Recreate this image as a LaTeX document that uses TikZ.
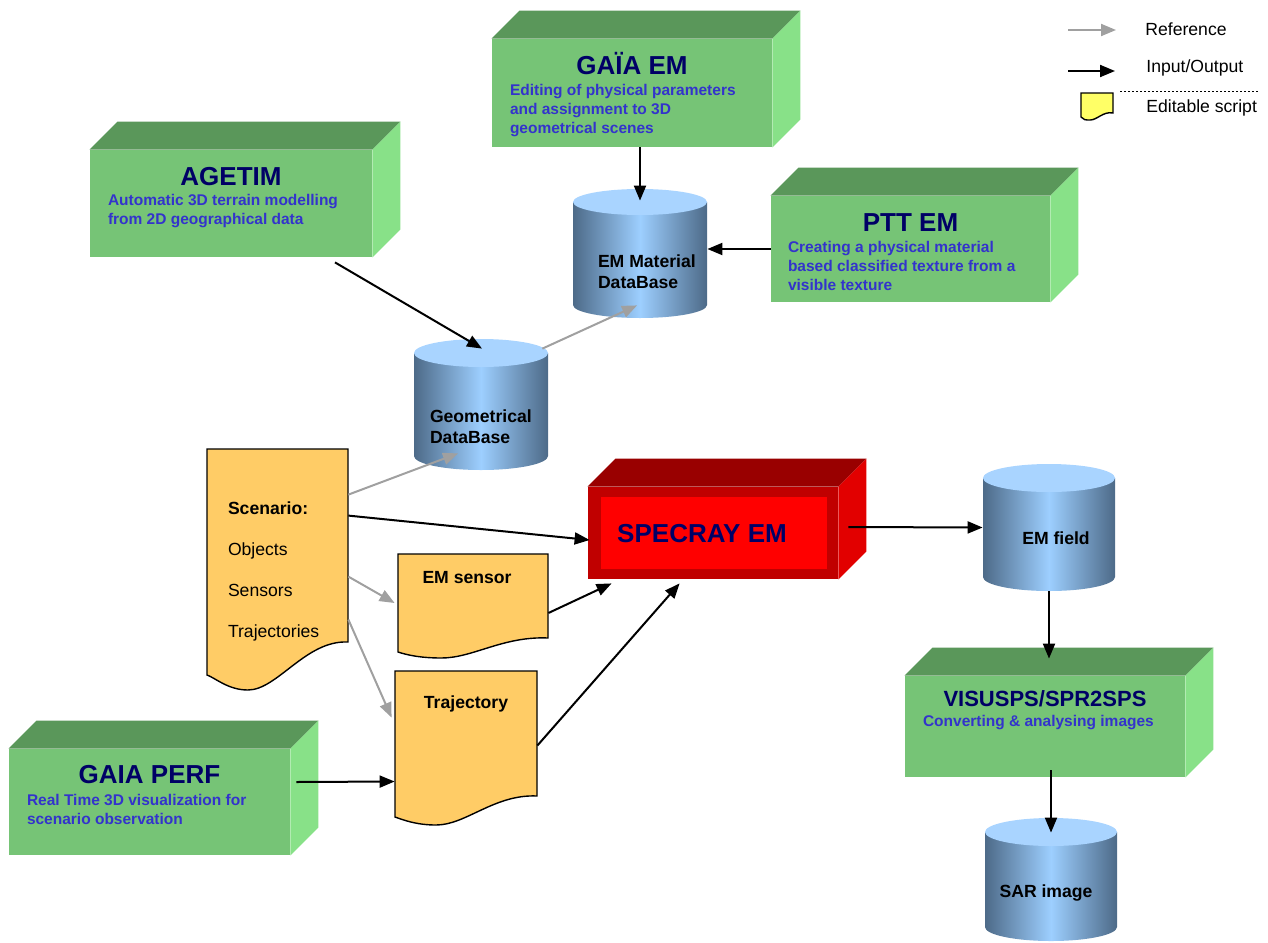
\documentclass[tikz,border=0pt]{standalone}
\usepackage{fontspec}
\setmainfont{Liberation Sans}
\usetikzlibrary{arrows.meta, calc, fit, positioning}

\definecolor{grnfront}{HTML}{76C476}
\definecolor{grntop}{HTML}{5A975A}
\definecolor{grnside}{HTML}{88E188}
\definecolor{redfront}{HTML}{C00000}
\definecolor{redtop}{HTML}{990000}
\definecolor{redside}{HTML}{E20000}
\definecolor{redinner}{HTML}{FF0000}
\definecolor{titlenavy}{HTML}{000066}
\definecolor{descblue}{HTML}{3333CC}
\definecolor{docorange}{HTML}{FFCC66}
\definecolor{legyellow}{HTML}{FFFF66}
\definecolor{refgray}{HTML}{A0A0A0}
\definecolor{dbedge}{HTML}{4D6A88}
\definecolor{dbmid}{HTML}{9DCFFF}
\definecolor{dbtop}{HTML}{A9D4FF}

\newcommand{\emblock}[6][grn]{%
  \node[fit={(#3,#4) (#5,#6)}, inner sep=0, fill=#1front] (#2) {};
  \fill[#1top] (#2.north west) -- ++(28,-28) -- ($(#2.north east)+(28,-28)$) -- (#2.north east) -- cycle;
  \fill[#1side] (#2.north east) -- ++(28,-28) -- ($(#2.south east)+(28,-28)$) -- (#2.south east) -- cycle;
}
\newcommand{\dbcyl}[6]{%
  \shade[left color=dbedge, right color=dbedge, middle color=dbmid]
    (#2-#5,#3) -- (#2-#5,#4) arc[start angle=180, end angle=0, x radius=#5, y radius=#6] -- (#2+#5,#3) -- cycle;
  \fill[dbtop] (#2,#3) ellipse[x radius=#5, y radius=#6];
  \node[fit={(#2-#5,#3-#6) (#2+#5,#4+#6)}, inner sep=0] (#1) {};
}
\newcommand{\scriptdoc}[8][docorange]{%
  \filldraw[fill=#1, draw=black, line width=0.7pt] (#3,#4) -- (#5,#4) -- (#5,#6)
    .. controls ({#5-0.3*(#5-#3)},#6-2) and ({#3+0.5*(#5-#3)},#8) .. ({#3+0.29*(#5-#3)},#8)
    .. controls ({#3+0.15*(#5-#3)},#8) and ({#3+0.06*(#5-#3)},#7+3) .. (#3,#7) -- cycle;
  \node[fit={(#3,#4) (#5,#6)}, inner sep=0] (#2) {};
}

\begin{document}
\begin{tikzpicture}[x=0.5pt,y=-0.5pt,>={Triangle[length=7.5pt,width=6pt]},
  io arrow/.style={->,line width=1pt,black},
  ref arrow/.style={->,line width=1pt,refgray},
  title text/.style={font=\fontsize{13}{15}\selectfont\bfseries,text=titlenavy,inner sep=0,anchor=base},
  desc text/.style={font=\fontsize{7.75}{9.5}\selectfont\bfseries,text=descblue,inner sep=0,anchor=north west,align=left},
  label text/.style={font=\fontsize{8.8}{10.5}\selectfont\bfseries,inner sep=0,align=left},
  plain text/.style={font=\fontsize{8.8}{10.5}\selectfont,inner sep=0,anchor=base west}]
  \useasboundingbox (0,0) rectangle (1268,942);

  % tools
  \emblock{gaiaem}{492}{39}{772}{147}
  \emblock{agetim}{90}{150}{372}{257}
  \emblock{pttem}{771}{196}{1050}{302}
  \emblock{gaiaperf}{9}{749}{290}{855}
  \emblock{visusps}{905}{676}{1185}{777}
  \emblock[red]{specray}{588}{487}{838}{579}
  \node[fit={(601,497) (827,569)}, inner sep=0, fill=redinner] (specin) {};

  \node[title text] (gaiaemT) at ($(gaiaem.north)+(0,36)$) {GAÏA EM};
  \node[desc text] (gaiaemD) at ($(gaiaem.north west)+(18,45)$) {Editing of physical parameters\\and assignment to 3D\\geometrical scenes};
  \node[title text] (agetimT) at ($(agetim.north)+(0,36)$) {AGETIM};
  \node[desc text] (agetimD) at ($(agetim.north west)+(18,44)$) {Automatic 3D terrain modelling\\from 2D geographical data};
  \node[title text] (pttemT) at ($(pttem.north)+(0,36)$) {PTT EM};
  \node[desc text] (pttemD) at ($(pttem.north west)+(17,45)$) {Creating a physical material\\based classified texture from a\\visible texture};
  \node[title text] (gaiaperfT) at ($(gaiaperf.north)+(0,35)$) {GAIA PERF};
  \node[desc text] (gaiaperfD) at ($(gaiaperf.north west)+(18,45)$) {Real Time 3D visualization for\\scenario observation};
  \node[title text, font=\fontsize{11}{13}\selectfont\bfseries] (visuspsT) at ($(visusps.north)+(0,31)$) {VISUSPS/SPR2SPS};
  \node[desc text] (visuspsD) at ($(visusps.north west)+(18,39)$) {Converting \& analysing images};
  \node[title text] (specrayT) at ($(specin.center)+(-12,9)$) {SPECRAY EM};

  % databases
  \dbcyl{emmat}{640}{202}{305}{67}{13}
  \dbcyl{geodb}{481}{353}{456}{67}{14}
  \dbcyl{emfield}{1049}{478}{577}{66}{14}
  \dbcyl{sarimg}{1051}{832}{927}{66}{14}
  \node[label text, anchor=north west] (emmatL) at ($(emmat.north west)+(25,66)$) {EM Material\\DataBase};
  \node[label text, anchor=north west] (geodbL) at ($(geodb.north west)+(16,71)$) {Geometrical\\DataBase};
  \node[label text, anchor=base] (emfieldL) at ($(emfield.center)+(7,17)$) {EM field};
  \node[label text, anchor=base] (sarimgL) at ($(sarimg.center)+(-5,18)$) {SAR image};

  % scripts
  \scriptdoc{scen}{207}{449}{348}{642}{675}{690}
  \scriptdoc{emsens}{398}{554}{548}{638}{652}{658}
  \scriptdoc{traj}{395}{671}{537}{796}{817}{825}
  \node[plain text, anchor=north west, align=left, font=\fontsize{8.8}{20.5}\selectfont] (scenT) at ($(scen.north west)+(21,53)$) {\textbf{Scenario:}\\Objects\\Sensors\\Trajectories};
  \node[label text, anchor=base] (emsensT) at ($(emsens.north)+(-6,30)$) {EM sensor};
  \node[label text, anchor=base] (trajT) at ($(traj.north)+(0,38)$) {Trajectory};

  % legend
  \coordinate (refA) at (1068,30);
  \coordinate (refB) at (1116,30);
  \coordinate (ioA) at (1068,71);
  \coordinate (ioB) at (1115,71);
  \node[plain text] (refL) at (1145,35) {Reference};
  \node[plain text] (ioL) at (1146,72) {Input/Output};
  \draw[ref arrow] (refA) -- (refB);
  \draw[io arrow] (ioA) -- (ioB);
  \draw[line width=0.5pt, dash pattern=on 1pt off 1pt] (1120,91) -- (1260,91);
  \scriptdoc[legyellow]{legdoc}{1081}{93}{1113}{113}{117}{120}
  \node[plain text] (edL) at (1146,112) {Editable script};

  % input / output
  \draw[io arrow] (gaiaem.south -| emmat.north) -- ($(emmat.north)+(0,12)$);
  \draw[io arrow] (pttem.west) -- (pttem.west -| emmat.east);
  \draw[io arrow] ($(agetim.south)+(104,5)$) -- ($(geodb.north)+(1,10)$);
  \draw[io arrow] ($(scen.north east)+(0,67)$) -- ($(specray.west)+(2,7)$);
  \draw[io arrow] ($(emsens.east)+(0,17)$) -- ($(specray.south west)+(24,4)$);
  \draw[io arrow] ($(traj.east)+(0,12)$) -- ($(specray.south west)+(92,4)$);
  \draw[io arrow] ($(specray.east)+(10,-6)$) -- (emfield.west);
  \draw[io arrow] (emfield.south) -- ($(emfield.south |- visusps.north)+(0,-17)$);
  \draw[io arrow] ($(visusps.south -| sarimg.north)+(0,-7)$) -- ($(sarimg.north)+(0,15)$);
  \draw[io arrow] ($(gaiaperf.east)+(6,-20)$) -- ($(traj.west)+(0,48)$);

  % references
  \draw[ref arrow] ($(geodb.north east)+(-6,10)$) -- ($(emmat.south)+(-3,-13)$);
  \draw[ref arrow] ($(scen.north east)+(0,46)$) -- ($(geodb.south)+(-23,-17)$);
  \draw[ref arrow] ($(scen.north east)+(0,128)$) -- ($(emsens.west)+(-3,7)$);
  \draw[ref arrow] ($(scen.north east)+(0,171)$) -- ($(traj.north west)+(-3,47)$);
\end{tikzpicture}
\end{document}
